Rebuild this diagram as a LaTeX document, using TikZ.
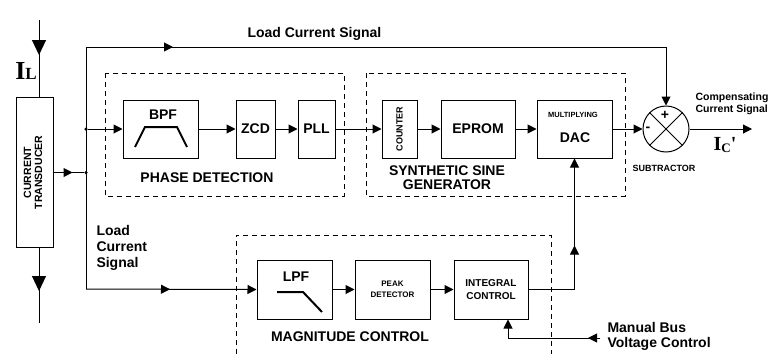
\documentclass[tikz,border=0pt]{standalone}
\usepackage{fontspec}
\setmainfont{Liberation Sans}
\newfontfamily\serifI{Liberation Serif}
\usetikzlibrary{arrows.meta,decorations.markings}
\newcommand{\fsz}[2]{\fontsize{#1}{#2}\selectfont}

\begin{document}
\begin{tikzpicture}[x=1pt, y=-1pt, line width=1pt,
    >={Triangle[length=9pt,width=9pt]},
    block/.style={draw, inner sep=0pt, align=center, font=\bfseries\fsz{14}{16}},
    group/.style={draw, dash pattern=on 5pt off 4pt, line width=0.8pt},
    label/.style={font=\bfseries\fsz{14}{14}, align=center, inner sep=0pt},
    arrowat/.style={postaction={decorate}, decoration={markings, mark=at position #1 with {\arrow{>}}}},
    bigarrowat/.style={postaction={decorate}, decoration={markings, mark=at position #1 with {\arrow{Triangle[length=15pt,width=14pt]}}}},
    dot/.style={circle, fill, inner sep=0pt, minimum size=3.5pt}]
    \useasboundingbox (0,0) rectangle (774,354);

    % dashed groups
    \draw[group] (105,73) rectangle (344,196);
    \draw[group] (366,73) rectangle (625,196);
    \draw[group] (236,354) -- (236,235) -- (551,235) -- (551,354);

    % current transducer and load current
    \node[block, minimum width=37pt, minimum height=150pt, font=\bfseries\fsz{10.5}{11}] (ct) at (34.5,172.5)
        {\rotatebox{90}{\begin{tabular}{@{}c@{}}CURRENT\\TRANSDUCER\end{tabular}}};
    \coordinate (ilin) at (39,20);
    \coordinate (ilout) at (39,323);
    \node[font=\serifI\bfseries\fsz{26}{26}, inner sep=0pt] (il) at (26,71) {I\fsz{17}{17}L};
    \draw[bigarrowat=35pt] (ilin) -- (ilin |- ct.north);
    \draw[bigarrowat=43pt] (ilout |- ct.south) -- (ilout);

    % phase detection
    \node[block, minimum width=75pt, minimum height=58pt] (bpf) at (160.5,129) {};
    \node[label] (bpflbl) at (163,115) {BPF};
    \draw[line width=2pt] (135,147) -- (145,127) -- (177,127) -- (187,147);
    \node[block, minimum width=39pt, minimum height=58pt] (zcd) at (255.5,129) {ZCD};
    \node[block, minimum width=37pt, minimum height=58pt] (pll) at (316.5,129) {PLL};
    \node[label] (phase) at (207,178) {PHASE DETECTION};

    % synthetic sine generator
    \node[block, minimum width=35pt, minimum height=58pt] (cnt) at (399.5,129) {\rotatebox{90}{\fsz{9}{9}COUNTER}};
    \node[block, minimum width=74pt, minimum height=58pt] (eprom) at (478,129) {EPROM};
    \node[block, minimum width=75pt, minimum height=58pt] (dac) at (574.5,129) {};
    \node[label, font=\bfseries\fsz{7.5}{7.5}] (mult) at (573,115) {MULTIPLYING};
    \node[label] (daclbl) at (575,138) {DAC};
    \node[label] (ssg) at (447,178) {SYNTHETIC SINE\\GENERATOR};

    % subtractor
    \node[draw, circle, minimum size=46pt, inner sep=0pt] (sum) at (666,129) {};
    \draw (sum.north west) -- (sum.south east);
    \draw (sum.north east) -- (sum.south west);
    \node[label] (plus) at (665,115) {+};
    \node[label] (minus) at (648,129) {-};
    \node[label, font=\bfseries\fsz{9}{9}] (sub) at (664,168) {SUBTRACTOR};
    \coordinate (icout) at (752,129);
    \node[label, align=left, anchor=west, font=\bfseries\fsz{10.5}{12}] (comp) at (695,104) {Compensating\\Current Signal};
    \node[font=\serifI\bfseries\fsz{20}{20}, inner sep=0pt] (ic) at (725,145) {I\raisebox{-2pt}{\fsz{13}{13}C}'};

    % magnitude control
    \node[block, minimum width=75pt, minimum height=59pt] (lpf) at (294.5,289.5) {};
    \node[label] (lpflbl) at (296,277) {LPF};
    \draw[line width=2pt] (277,292) -- (303,292) -- (322,312);
    \node[block, minimum width=75pt, minimum height=59pt, font=\bfseries\fsz{8}{11}] (peak) at (392.5,289.5) {PEAK\\DETECTOR};
    \node[block, minimum width=74pt, minimum height=59pt, font=\bfseries\fsz{10}{13}] (integ) at (491,289.5) {INTEGRAL\\CONTROL};
    \node[label] (mag) at (350,337) {MAGNITUDE CONTROL};

    % other texts
    \node[label, anchor=west] (lcs) at (247,34) {Load Current Signal};
    \node[label, anchor=west, align=left, font=\bfseries\fsz{14}{16}] (lcsb) at (96,248) {Load\\Current\\Signal};
    \node[label, anchor=west, align=left, font=\bfseries\fsz{14}{15}] (manlbl) at (607,336) {Manual Bus\\Voltage Control};

    % junctions
    \coordinate (jtop) at (86,47);
    \coordinate (jbot) at (86,289);
    \node[dot] (jbpf) at (86,129) {};
    \node[dot] (jct) at (86,172.5) {};
    \coordinate (manual) at (600,338);
    \coordinate (mbend) at (508,338);

    % connectors
    \draw[arrowat=19pt] (ct.east) -- (jct);
    \draw[arrowat=87pt, ->] (jtop) -| (sum.north);
    \draw (jtop) -- (jbot);
    \draw[->] (jbpf) -- (bpf.west);
    \draw[arrowat=84pt, ->] (jbot) -- (lpf.west);
    \draw[->] (bpf) -- (zcd);
    \draw[->] (zcd) -- (pll);
    \draw[->] (pll) -- (cnt);
    \draw[->] (cnt) -- (eprom);
    \draw[->] (eprom) -- (dac);
    \draw[->] (dac) -- (sum);
    \draw[->] (sum) -- (icout);
    \draw[->] (lpf) -- (peak);
    \draw[->] (peak) -- (integ);
    \draw[arrowat=90pt, ->] (integ.east) -| (dac.south);
    \draw[arrowat=12pt, ->] (manual) -- (mbend) -- (mbend |- integ.south);
\end{tikzpicture}
\end{document}
